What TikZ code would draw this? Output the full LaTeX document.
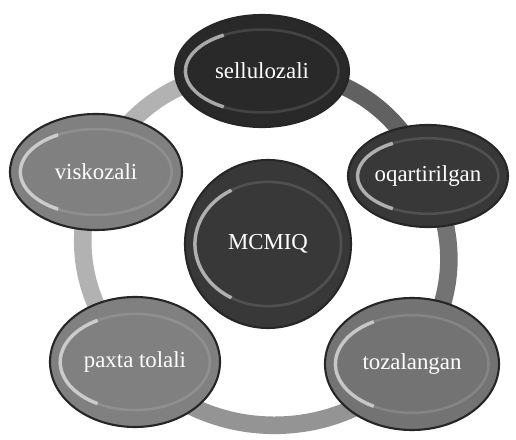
\documentclass[tikz,border=0pt]{standalone}
\usepackage{fontspec}
\setmainfont{Liberation Serif}
\usepackage{tikz}
\usetikzlibrary{shapes.geometric, calc, backgrounds}
\definecolor{beaddark}{gray}{0.16}
\definecolor{beadmid}{gray}{0.22}
\definecolor{beadlight}{gray}{0.48}
\tikzset{
  % bead shaped nodes
  bead/.style={
    ellipse, draw=black!85, line width=1.2pt, fill=#1,
    text=white!92, font=\fontsize{13}{15}\selectfont,
    inner sep=0pt,
    path picture={
      \coordinate (pc) at (path picture bounding box.center);
      \draw[white, opacity=.12, line width=1.5pt] (pc) ellipse
        [x radius=.44*\pgfkeysvalueof{/pgf/minimum width},
         y radius=.37*\pgfkeysvalueof{/pgf/minimum height}];
      \draw[white, opacity=.55, line width=2pt]
        ($(pc)+({.44*\pgfkeysvalueof{/pgf/minimum width}*cos(120)},{.37*\pgfkeysvalueof{/pgf/minimum height}*sin(120)})$)
        arc[start angle=120, end angle=240,
            x radius=.44*\pgfkeysvalueof{/pgf/minimum width},
            y radius=.37*\pgfkeysvalueof{/pgf/minimum height}];
    }
  },
  bead/.default=beadlight,
  % ring segments
  ring/.style={line width=10pt, color=#1},
  ring/.default=black!40,
}
\begin{document}
\begin{tikzpicture}
  \useasboundingbox (-5.36,-3.84) rectangle (4.96,4.96);

  \node[bead=beaddark, minimum width=3.48cm, minimum height=2.24cm] (sell) at (-0.12,3.54) {sellulozali};
  \node[bead=beadmid, minimum width=3.2cm, minimum height=2.04cm] (oqar) at (3.2,1.44) {oqartirilgan};
  \node[bead=black!55, minimum width=3.48cm, minimum height=2.64cm] (toza) at (2.88,-2.32) {tozalangan};
  \node[bead=black!50, minimum width=3.4cm, minimum height=2.6cm] (paxta) at (-2.66,-2.28) {paxta tolali};
  \node[bead=black!50, minimum width=3.44cm, minimum height=2.32cm] (visk) at (-3.44,1.52) {viskozali};
  \node[bead=beadmid, minimum width=3.32cm, minimum height=3.36cm] (mcmiq) at (0,0.08) {MCMIQ};

  % ring behind the beads
  \begin{scope}[on background layer]
    \draw[ring=black!62] (sell.center) to[bend left=34] (oqar.center);
    \draw[ring=black!55] (oqar.center) to[bend left=31] (toza.center);
    \draw[ring=black!42] (toza.center) to[bend left=50] (paxta.center);
    \draw[ring=black!30] (paxta.center) to[bend left=32] (visk.center);
    \draw[ring=black!30] (visk.center) to[bend left=32] (sell.center);
  \end{scope}
\end{tikzpicture}
\end{document}
